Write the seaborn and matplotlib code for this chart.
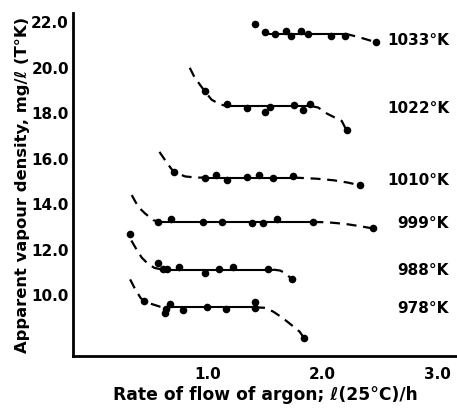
import matplotlib
matplotlib.use("Agg")
import matplotlib.pyplot as plt
import seaborn as sns
import pandas as pd

# ---- measured points -------------------------------------------------------
series_names = ["1033°K", "1022°K", "1010°K", "999°K", "988°K", "978°K"]

x_1033 = [1.41, 1.50, 1.585, 1.68, 1.725, 1.81, 1.875, 2.075, 2.20, 2.47]
y_1033 = [21.91, 21.58, 21.47, 21.62, 21.38, 21.62, 21.47, 21.38, 21.42, 21.13]

x_1022 = [0.974, 1.163, 1.338, 1.498, 1.537, 1.755, 1.832, 1.895, 2.21]
y_1022 = [18.98, 18.40, 18.25, 18.06, 18.28, 18.37, 18.13, 18.40, 17.25]

x_1010 = [0.70, 0.974, 1.067, 1.169, 1.343, 1.445, 1.57, 1.74, 2.33]
y_1010 = [15.42, 15.13, 15.30, 15.05, 15.20, 15.30, 15.17, 15.22, 14.83]

x_999 = [0.566, 0.674, 0.954, 1.12, 1.38, 1.478, 1.60, 1.92, 2.44]
y_999 = [13.22, 13.34, 13.22, 13.22, 13.15, 13.15, 13.34, 13.22, 12.93]

x_988 = [0.319, 0.566, 0.61, 0.64, 0.75, 0.974, 1.096, 1.22, 1.525, 1.73]
y_988 = [12.68, 11.39, 11.13, 11.13, 11.24, 10.95, 11.13, 11.24, 11.14, 10.70]

x_978 = [0.44, 0.624, 0.63, 0.668, 0.777, 0.99, 1.157, 1.41, 1.41, 1.84]
y_978 = [9.74, 9.22, 9.37, 9.59, 9.34, 9.49, 9.37, 9.68, 9.44, 8.10]

# ---- plateau (solid) lines: level, start, end ------------------------------
plateau_level = [21.50, 18.32, 15.17, 13.22, 11.12, 9.46]
plateau_start = [1.50, 1.16, 0.97, 0.57, 0.60, 0.65]
plateau_end = [2.20, 1.90, 1.75, 1.92, 1.57, 1.41]

# ---- dashed trend curves ---------------------------------------------------
dash_left_x = [
    [],
    [0.84, 0.88, 0.93, 0.97, 1.03, 1.10, 1.16],
    [0.575, 0.65, 0.70, 0.80, 0.90, 0.97],
    [0.333, 0.39, 0.45, 0.52, 0.57],
    [0.33, 0.37, 0.42, 0.47, 0.53, 0.60],
    [0.319, 0.36, 0.41, 0.44, 0.50, 0.58, 0.65],
]
dash_left_y = [
    [],
    [20.0, 19.6, 19.25, 18.98, 18.6, 18.40, 18.32],
    [16.30, 15.75, 15.42, 15.22, 15.17, 15.17],
    [14.40, 13.88, 13.59, 13.30, 13.22],
    [12.40, 12.05, 11.65, 11.40, 11.20, 11.12],
    [10.69, 10.29, 9.88, 9.74, 9.62, 9.49, 9.46],
]
dash_right_x = [
    [2.20, 2.33, 2.45],
    [1.90, 1.963, 2.037, 2.168, 2.21],
    [1.75, 1.95, 2.10, 2.22, 2.33],
    [1.92, 2.05, 2.20, 2.33, 2.44],
    [1.57, 1.63, 1.68, 1.73],
    [1.41, 1.50, 1.57, 1.65, 1.73, 1.80, 1.84],
]
dash_right_y = [
    [21.50, 21.33, 21.15],
    [18.32, 18.25, 17.99, 17.66, 17.25],
    [15.17, 15.12, 15.05, 14.95, 14.83],
    [13.22, 13.20, 13.13, 13.03, 12.93],
    [11.12, 11.08, 10.95, 10.70],
    [9.46, 9.44, 9.27, 9.0, 8.68, 8.39, 8.10],
]

label_y = [21.21, 18.22, 15.05, 13.16, 11.10, 9.43]

x_ticks = [1.0, 2.0, 3.0]
y_ticks = [10.0, 12.0, 14.0, 16.0, 18.0, 20.0, 22.0]

xs = [x_1033, x_1022, x_1010, x_999, x_988, x_978]
ys = [y_1033, y_1022, y_1010, y_999, y_988, y_978]

# ---- build tables ----------------------------------------------------------
pts = pd.DataFrame(
    [(n, x, y) for n, xx, yy in zip(series_names, xs, ys) for x, y in zip(xx, yy)],
    columns=["series", "x", "y"],
)

sns.set_theme(style="white")
plt.rcParams["font.family"] = ["DejaVu Sans"]
plt.rcParams["font.weight"] = "bold"
plt.rcParams["text.color"] = "black"
plt.rcParams["axes.labelcolor"] = "black"

fig = plt.figure(figsize=(4.57, 4.09), dpi=100)
ax = fig.add_axes([0.16, 0.1296, 0.84, 0.838])

for i, name in enumerate(series_names):
    solid = pd.DataFrame({"x": [plateau_start[i], plateau_end[i]],
                          "y": [plateau_level[i], plateau_level[i]]})
    sns.lineplot(data=solid, x="x", y="y", ax=ax, color="black", lw=1.5,
                 sort=False, estimator=None)
    for dx, dy in ((dash_left_x[i], dash_left_y[i]), (dash_right_x[i], dash_right_y[i])):
        if dx:
            d = pd.DataFrame({"x": dx, "y": dy})
            sns.lineplot(data=d, x="x", y="y", ax=ax, color="black", lw=1.6,
                         sort=False, estimator=None, dashes=False,
                         linestyle=(0, (4.5, 3)))
    ax.text(3.105, label_y[i], name, ha="right", va="center", fontsize=11,
            fontweight="bold", color="black")

sns.scatterplot(data=pts, x="x", y="y", ax=ax, color="black", s=30,
                edgecolor="black", linewidth=0, zorder=5, legend=False)

ax.set_xlim(-0.179, 3.175)
ax.set_ylim(7.32, 22.40)
ax.set_xticks(x_ticks)
ax.set_xticklabels([f"{v:.1f}" for v in x_ticks])
ax.set_yticks(y_ticks)
ax.set_yticklabels([f"{v:.1f}" for v in y_ticks])

ax.tick_params(axis="both", direction="in", length=6, width=1.5,
               labelsize=11, colors="black")
ax.tick_params(axis="x", pad=8)
ax.tick_params(axis="y", pad=3)
for lab in ax.get_xticklabels() + ax.get_yticklabels():
    lab.set_fontweight("bold")

sns.despine(ax=ax)
for s in ("left", "bottom"):
    ax.spines[s].set_linewidth(2)
    ax.spines[s].set_color("black")

ax.set_xlabel("Rate of flow of argon; ℓ(25°C)/h", fontsize=12.3,
              fontweight="bold", labelpad=3, color="black")
ax.set_ylabel("Apparent vapour density, mg/ℓ (T°K)", fontsize=11.8,
              fontweight="bold", labelpad=1, color="black")

fig.savefig("out.png", dpi=100)
